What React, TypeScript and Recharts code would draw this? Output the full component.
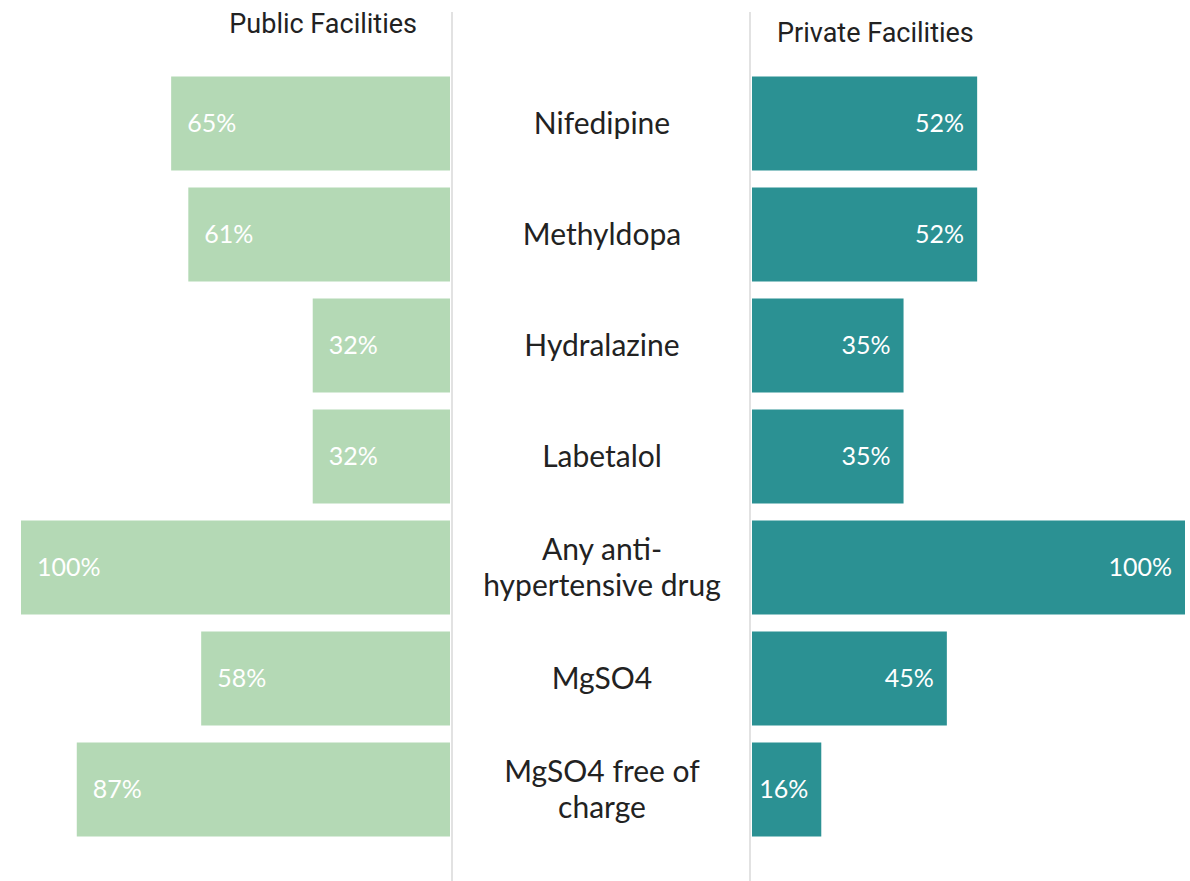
import { Bar, BarChart, LabelList, XAxis, YAxis } from 'recharts'

const categories = [
  'Nifedipine',
  'Methyldopa',
  'Hydralazine',
  'Labetalol',
  'Any anti-\nhypertensive drug',
  'MgSO4',
  'MgSO4 free of\ncharge',
]
const publicValues = [65, 61, 32, 32, 100, 58, 87]
const privateValues = [52, 52, 35, 35, 100, 45, 16]

const data = categories.map((name, i) => ({ name, pub: publicValues[i], priv: privateValues[i] }))

const labelFont = 'Lato, "Noto Sans", sans-serif'
const titleFont = 'Roboto, "Noto Sans", sans-serif'

const CHART_H = 881
const MARGIN = { top: 68, bottom: 36 }

const CategoryTick = (props: any) => {
  const { x, y, payload } = props
  const lines = String(payload.value).split('\n')
  const lh = 36
  const start = y - ((lines.length - 1) * lh) / 2
  return (
    <text x={x - 150} textAnchor="middle" fontFamily={labelFont} fontSize={30} fill="#222">
      {lines.map((line, i) => (
        <tspan key={i} x={x - 150} y={start + i * lh} dy="0.35em">
          {line}
        </tspan>
      ))}
    </text>
  )
}

const leftLabel = (props: any) => {
  const { x, y, width, height, value } = props
  const left = Math.min(x, x + width)
  return (
    <text x={left + 16} y={y + height / 2} dy="0.35em" fill="#fff" fontFamily={labelFont} fontSize={25}>
      {value}%
    </text>
  )
}

const rightLabel = (props: any) => {
  const { x, y, width, height, value } = props
  const right = Math.max(x, x + width)
  return (
    <text x={right - 13} y={y + height / 2} dy="0.35em" fill="#fff" textAnchor="end" fontFamily={labelFont} fontSize={25}>
      {value}%
    </text>
  )
}

export default function App() {
  return (
    <div style={{ position: 'absolute', left: 0, top: 0, width: 1190, height: 881, background: '#fff', overflow: 'hidden' }}>
      <div style={{ position: 'absolute', left: 451, top: 12, width: 2, height: 869, background: '#e2e2e2' }} />
      <div style={{ position: 'absolute', left: 749, top: 12, width: 2, height: 869, background: '#e2e2e2' }} />

      <div
        style={{ position: 'absolute', right: 1190 - 417, top: 8, fontFamily: titleFont, fontSize: 27, color: '#222', lineHeight: '32px', whiteSpace: 'nowrap' }}
      >
        Public Facilities
      </div>
      <div
        style={{ position: 'absolute', left: 777, top: 17, fontFamily: titleFont, fontSize: 27, color: '#222', lineHeight: '32px', whiteSpace: 'nowrap' }}
      >
        Private Facilities
      </div>

      <div style={{ position: 'absolute', left: 0, top: 0 }}>
        <BarChart width={452} height={CHART_H} data={data} layout="vertical" barCategoryGap="7.7%" margin={{ ...MARGIN, left: 21, right: 2 }}>
          <XAxis type="number" domain={[0, 100]} reversed hide />
          <YAxis type="category" dataKey="name" hide />
          <Bar dataKey="pub" fill="#b4d9b5" isAnimationActive={false}>
            <LabelList dataKey="pub" content={leftLabel} />
          </Bar>
        </BarChart>
      </div>

      <div style={{ position: 'absolute', left: 452, top: 0 }}>
        <BarChart width={738} height={CHART_H} data={data} layout="vertical" barCategoryGap="7.7%" margin={{ ...MARGIN, left: 0, right: 5 }}>
          <XAxis type="number" domain={[0, 100]} hide />
          <YAxis
            type="category"
            dataKey="name"
            width={300}
            axisLine={false}
            tickLine={false}
            tickSize={0}
            tickMargin={0}
            tick={<CategoryTick />}
            interval={0}
          />
          <Bar dataKey="priv" fill="#2b9193" isAnimationActive={false}>
            <LabelList dataKey="priv" content={rightLabel} />
          </Bar>
        </BarChart>
      </div>
    </div>
  )
}
